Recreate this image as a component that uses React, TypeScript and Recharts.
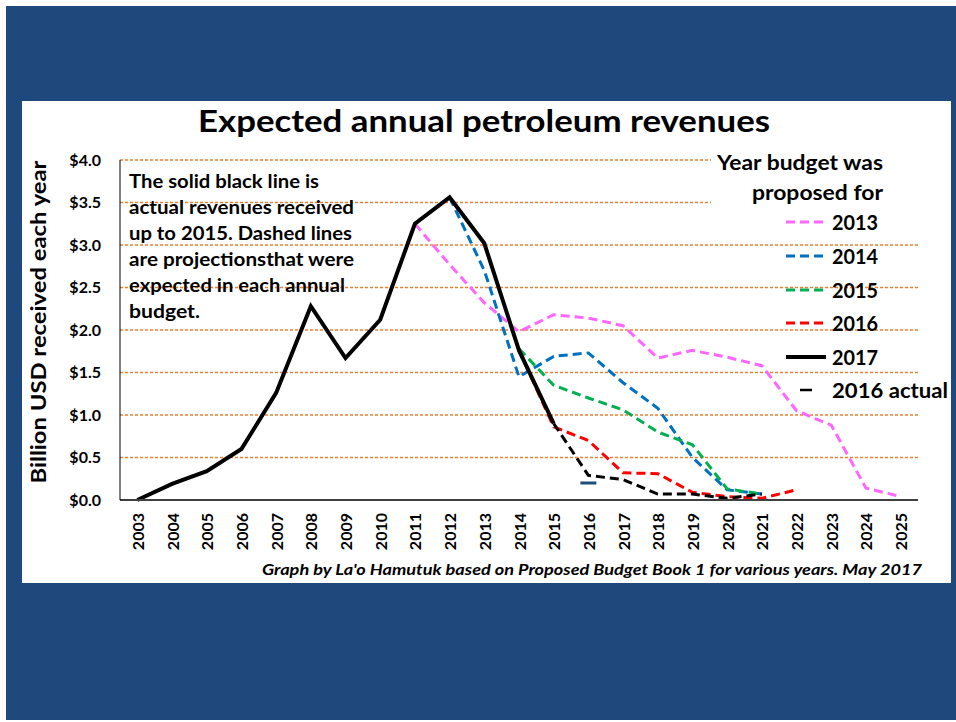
import React from 'react';
import { LineChart, Line, XAxis, YAxis, CartesianGrid } from 'recharts';

// values, billion USD
const years = [
  '2003', '2004', '2005', '2006', '2007', '2008', '2009', '2010', '2011', '2012', '2013', '2014',
  '2015', '2016', '2017', '2018', '2019', '2020', '2021', '2022', '2023', '2024', '2025',
];
const budget2013 = [null, null, null, null, null, null, null, null, 3.25, 2.77, 2.32, 1.98, 2.18, 2.14, 2.05, 1.67, 1.76, 1.68, 1.58, 1.05, 0.88, 0.14, 0.04];
const budget2014 = [null, null, null, null, null, null, null, null, null, 3.56, 2.7, 1.45, 1.69, 1.73, 1.38, 1.08, 0.5, 0.12, 0.07, null, null, null, null];
const budget2015 = [null, null, null, null, null, null, null, null, null, null, null, 1.78, 1.35, 1.2, 1.06, 0.8, 0.65, 0.13, 0.07, null, null, null, null];
const budget2016 = [null, null, null, null, null, null, null, null, null, null, null, 1.76, 0.86, 0.7, 0.32, 0.31, 0.09, 0.04, 0.02, 0.12, null, null, null];
const actual2017 = [0, 0.19, 0.34, 0.6, 1.26, 2.28, 1.67, 2.12, 3.25, 3.56, 3.02, 1.76, 0.9, null, null, null, null, null, null, null, null, null, null];
const budget2017 = [null, null, null, null, null, null, null, null, null, null, null, null, 0.9, 0.29, 0.24, 0.07, 0.07, 0.02, 0.07, null, null, null, null];
const actual2016 = [null, null, null, null, null, null, null, null, null, null, null, null, null, 0.2, null, null, null, null, null, null, null, null, null];
const yTicks = [0, 0.5, 1, 1.5, 2, 2.5, 3, 3.5, 4];

const data = years.map((year, i) => ({
  year,
  b2013: budget2013[i],
  b2014: budget2014[i],
  b2015: budget2015[i],
  b2016: budget2016[i],
  a2017: actual2017[i],
  b2017: budget2017[i],
  a2016: actual2016[i],
}));

const font = "Lato, 'Open Sans', sans-serif";
const navy = '#1F497D';

const YearTick = ({ x, y, payload }: any) => (
  <text
    x={x}
    y={y + 5}
    transform={`rotate(-90, ${x}, ${y + 5})`}
    textAnchor="end"
    dominantBaseline="central"
    fontFamily={font}
    fontWeight={700}
    fontSize={16}
    fill="#000"
  >
    {payload.value}
  </text>
);

const ActualDash = (p: any) => {
  if (p.cy == null || p.payload?.a2016 == null) return <g key={p.key} />;
  return <line key={p.key} x1={p.cx - 8} x2={p.cx + 8} y1={p.cy} y2={p.cy} stroke="#1F4E79" strokeWidth={3} />;
};

const legendRows = [
  { label: '2013', color: '#FF66FF', y: 222, dash: '9 5' },
  { label: '2014', color: '#0070C0', y: 256, dash: '9 5' },
  { label: '2015', color: '#00B050', y: 290, dash: '9 5' },
  { label: '2016', color: '#FF0000', y: 323, dash: '9 5' },
  { label: '2017', color: '#000000', y: 357, dash: undefined },
];

const noteLines = [
  { t: 'The solid black line is', w: 190 },
  { t: 'actual revenues received', w: 225 },
  { t: 'up to 2015. Dashed lines', w: 223 },
  { t: 'are projectionsthat were', w: 225 },
  { t: 'expected in each annual', w: 216 },
  { t: 'budget.', w: 71 },
];

export default function App() {
  return (
    <div style={{ position: 'absolute', left: 0, top: 0, width: 956, height: 722, background: '#fff', overflow: 'hidden' }}>
      <div style={{ position: 'absolute', left: 6, top: 6, width: 950, height: 714, background: navy }} />
      <div style={{ position: 'absolute', left: 22, top: 101, width: 929, height: 482, background: '#fff' }} />
      <div style={{ position: 'absolute', left: 0, top: 0 }}>
        <LineChart width={956} height={722} data={data} margin={{ top: 160, right: 38, left: 60, bottom: 162 }}>
          <CartesianGrid vertical={false} stroke="#F08030" strokeDasharray="3 2" strokeWidth={1.5} />
          <XAxis
            dataKey="year"
            scale="band"
            interval={0}
            height={60}
            tickLine={false}
            axisLine={{ stroke: '#404040', strokeWidth: 2 }}
            tick={<YearTick />}
          />
          <YAxis
            width={60}
            domain={[0, 4]}
            ticks={yTicks}
            tickFormatter={(v: number) => `$${v.toFixed(1)}`}
            tickLine={false}
            tickSize={0}
            tickMargin={19}
            axisLine={{ stroke: '#000', strokeWidth: 1 }}
            tick={{ fill: '#000', fontSize: 16, fontWeight: 700, fontFamily: font }}
          />
          <Line dataKey="b2013" stroke="#FF66FF" strokeWidth={3} strokeDasharray="9 5" dot={false} isAnimationActive={false} />
          <Line dataKey="b2014" stroke="#0070C0" strokeWidth={3} strokeDasharray="9 5" dot={false} isAnimationActive={false} />
          <Line dataKey="b2015" stroke="#00B050" strokeWidth={3} strokeDasharray="9 5" dot={false} isAnimationActive={false} />
          <Line dataKey="b2016" stroke="#FF0000" strokeWidth={3} strokeDasharray="9 5" dot={false} isAnimationActive={false} />
          <Line dataKey="a2017" stroke="#000" strokeWidth={4} dot={false} isAnimationActive={false} />
          <Line dataKey="b2017" stroke="#000" strokeWidth={3} strokeDasharray="9 5" dot={false} isAnimationActive={false} />
          <Line dataKey="a2016" stroke="none" dot={ActualDash} isAnimationActive={false} />
        </LineChart>
      </div>
      <svg width={956} height={722} style={{ position: 'absolute', left: 0, top: 0, pointerEvents: 'none' }}>
        <text x={198} y={132} fontFamily={font} fontWeight={700} fontSize={31} fill="#000" textLength={572} lengthAdjust="spacingAndGlyphs">
          Expected annual petroleum revenues
        </text>
        <text
          x={38}
          y={322}
          transform="rotate(-90, 38, 322)"
          textAnchor="middle"
          dominantBaseline="central"
          fontFamily={font}
          fontWeight={700}
          fontSize={20}
          fill="#000"
          textLength={323}
          lengthAdjust="spacingAndGlyphs"
        >
          Billion USD received each year
        </text>
        {noteLines.map((l, i) => (
          <text key={l.t} x={129} y={181 + i * 26} dominantBaseline="central" fontFamily={font} fontWeight={700} fontSize={18} fill="#000" textLength={l.w} lengthAdjust="spacingAndGlyphs">
            {l.t}
          </text>
        ))}
        <rect x={711} y={150} width={207} height={60} fill="#fff" />
        <text x={717} y={162} dominantBaseline="central" fontFamily={font} fontWeight={700} fontSize={20} fill="#000" textLength={166} lengthAdjust="spacingAndGlyphs">
          Year budget was
        </text>
        <text x={752} y={192} dominantBaseline="central" fontFamily={font} fontWeight={700} fontSize={20} fill="#000" textLength={131} lengthAdjust="spacingAndGlyphs">
          proposed  for
        </text>
        {legendRows.map((r) => (
          <g key={r.label}>
            <line x1={786} x2={826} y1={r.y} y2={r.y} stroke={r.color} strokeWidth={r.dash ? 3 : 4} strokeDasharray={r.dash} />
            <text x={832} y={r.y} dominantBaseline="central" fontFamily={font} fontWeight={700} fontSize={20} fill="#000" textLength={46} lengthAdjust="spacingAndGlyphs">
              {r.label}
            </text>
          </g>
        ))}
        <line x1={800} x2={812} y1={390} y2={390} stroke="#000" strokeWidth={2.5} />
        <text x={832} y={390} dominantBaseline="central" fontFamily={font} fontWeight={700} fontSize={20} fill="#000" textLength={116} lengthAdjust="spacingAndGlyphs">
          2016 actual
        </text>
        <text x={262} y={575} fontFamily={font} fontWeight={700} fontStyle="italic" fontSize={15} fill="#000" textLength={660} lengthAdjust="spacingAndGlyphs">
          Graph by La'o Hamutuk based on Proposed Budget Book 1 for various years. May 2017
        </text>
      </svg>
    </div>
  );
}
